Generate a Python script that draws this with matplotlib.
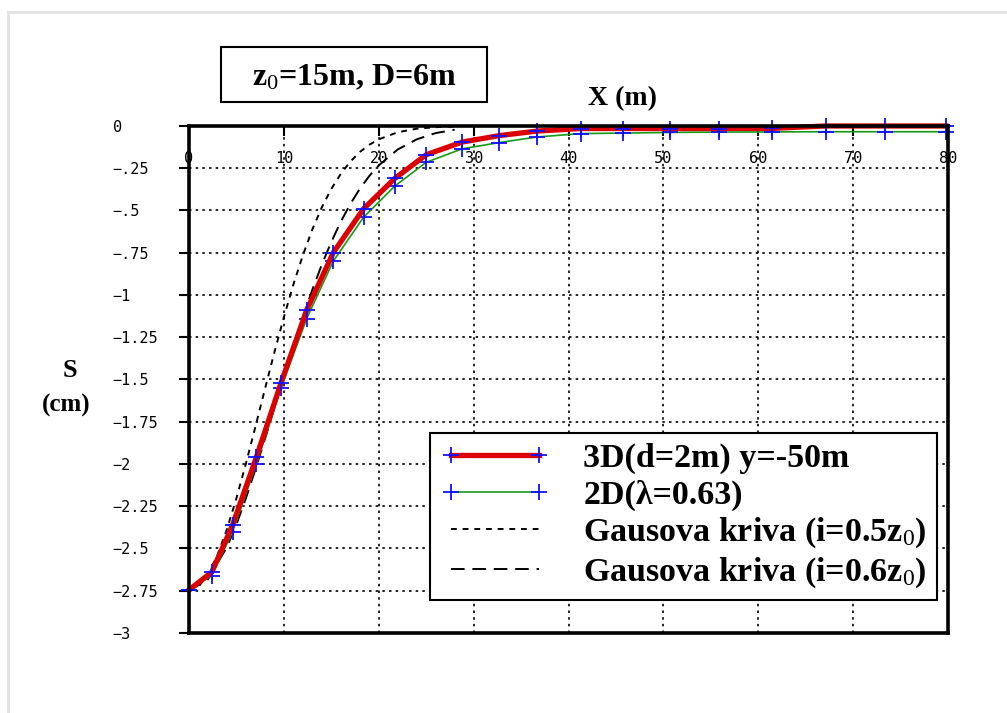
import numpy as np
import matplotlib
matplotlib.use("Agg")
import matplotlib.pyplot as plt
from matplotlib.patches import Rectangle

plt.rcParams["mathtext.fontset"] = "custom"
plt.rcParams["mathtext.rm"] = "Liberation Serif"
plt.rcParams["mathtext.default"] = "rm"

# points with markers (3D and 2D models), x in m, settlement S in cm
x_pts = [0, 2.4, 4.6, 7.1, 9.7, 12.4, 15.2, 18.4, 21.7, 25.0, 28.8, 32.7, 36.7,
         41.3, 45.7, 50.7, 55.9, 61.5, 67.1, 73.4, 79.8]
s_3d = [-2.745, -2.64, -2.36, -1.96, -1.52, -1.09, -0.75, -0.49, -0.31, -0.17,
        -0.095, -0.057, -0.03, -0.015, -0.015, -0.015, -0.015, -0.014, 0.0, 0.0, 0.0]
s_2d = [-2.745, -2.66, -2.40, -2.00, -1.55, -1.14, -0.80, -0.54, -0.355, -0.215,
        -0.135, -0.098, -0.065, -0.045, -0.042, -0.038, -0.036, -0.035, -0.034,
        -0.034, -0.034]

# Gaussian curves
x_g05 = [0, 1, 2, 3, 4, 5, 6, 7, 8, 9, 10, 11, 12, 13, 14, 15, 16, 17, 18, 19,
         20, 22, 24, 26, 28]
s_g05 = [-2.75, -2.726, -2.654, -2.539, -2.385, -2.202, -1.997, -1.779, -1.557,
         -1.339, -1.131, -0.938, -0.765, -0.612, -0.481, -0.372, -0.283, -0.211,
         -0.154, -0.111, -0.079, -0.037, -0.016, -0.007, -0.003]
x_g06 = [0, 2, 4, 5, 6, 7, 8, 9, 10, 11, 12, 13, 14, 15, 16, 17, 18, 19, 20,
         22, 24, 26, 28]
s_g06 = [-2.75, -2.683, -2.491, -2.357, -2.202, -2.032, -1.853, -1.668, -1.483,
         -1.303, -1.131, -0.969, -0.820, -0.686, -0.566, -0.462, -0.372, -0.296,
         -0.233, -0.139, -0.079, -0.042, -0.022]

x_ticks = [0, 10, 20, 30, 40, 50, 60, 70, 80]
y_ticks = [0, -0.25, -0.5, -0.75, -1, -1.25, -1.5, -1.75, -2, -2.25, -2.5, -2.75, -3]
y_tick_labels = ["0", "\u2212.25", "\u2212.5", "\u2212.75", "\u22121", "\u22121.25",
                 "\u22121.5", "\u22121.75", "\u22122", "\u22122.25", "\u22122.5",
                 "\u22122.75", "\u22123"]

labels = ["3D(d=2m) y=-50m", "2D(\u03bb=0.63)",
          "Gausova kriva (i=0.5z$_0$)", "Gausova kriva (i=0.6z$_0$)"]

serif_bold = {"family": "Liberation Serif", "weight": "bold"}

fig = plt.figure(figsize=(10.07, 7.13), dpi=100)
ax = fig.add_axes([0.1877, 0.1122, 0.7537, 0.7111])

l3 = ax.plot(x_g05, s_g05, color="black", linewidth=1.4, linestyle=(0, (3, 3)),
             label=labels[2])[0]
l4 = ax.plot(x_g06, s_g06, color="black", linewidth=1.4, linestyle=(0, (7, 4)),
             label=labels[3])[0]
l2 = ax.plot(x_pts, s_2d, color="#169a16", linewidth=1.2, marker="+",
             markersize=12, markeredgewidth=1.3, markeredgecolor="#1010ff",
             label=labels[1], clip_on=False)[0]
l1 = ax.plot(x_pts, s_3d, color="#dd0000", linewidth=3.8, marker="+",
             markersize=12, markeredgewidth=1.3, markeredgecolor="#1010ff",
             label=labels[0], clip_on=False)[0]

ax.set_xlim(0, 80)
ax.set_ylim(-3, 0)

for sp in ax.spines.values():
    sp.set_linewidth(2.6)
    sp.set_color("black")

ax.grid(True, color="black", linestyle=(0, (1.5, 2.5)), linewidth=1.2)

ax.set_xticks(x_ticks, [str(v) for v in x_ticks])
ax.tick_params(axis="x", bottom=False, top=True, labelbottom=False, labeltop=True,
               direction="in", length=7, width=1.5, pad=-29,
               labelsize=11, labelfontfamily="DejaVu Sans Mono")

ax.set_yticks(y_ticks, y_tick_labels)
ax.tick_params(axis="y", direction="out", length=7, width=1.5, pad=48,
               labelsize=11, labelfontfamily="DejaVu Sans Mono")
for lbl in ax.get_yticklabels():
    lbl.set_horizontalalignment("left")

leg = ax.legend(handles=[l1, l2, l3, l4], loc="lower right",
                bbox_to_anchor=(0.9855, 0.065), borderaxespad=0,
                prop={"family": "Liberation Serif", "weight": "bold", "size": 24.5},
                fancybox=False, edgecolor="black", framealpha=1,
                handlelength=3.2, handletextpad=1.0, labelspacing=0.15,
                numpoints=2, borderpad=0.3)
leg.get_frame().set_linewidth(1.5)

# title box
fig.add_artist(Rectangle((0.2195, 0.857), 0.2641, 0.0771, transform=fig.transFigure,
                         fill=False, edgecolor="black", linewidth=1.5))
fig.text(0.352, 0.891, "z$_0$=15m, D=6m", ha="center", va="center",
         fontsize=23, **serif_bold)

fig.text(0.6177, 0.862, "X (m)", ha="center", va="center", fontsize=20, **serif_bold)
fig.text(0.0695, 0.481, "S", ha="center", va="center", fontsize=19, **serif_bold)
fig.text(0.0655, 0.432, "(cm)", ha="center", va="center", fontsize=18, **serif_bold)

# light frame around the picture
fig.add_artist(Rectangle((0.0075, -0.05), 1.1, 1.033, transform=fig.transFigure,
                         fill=False, edgecolor="#e4e4e4", linewidth=2.2))

fig.savefig("out.png", dpi=100)
